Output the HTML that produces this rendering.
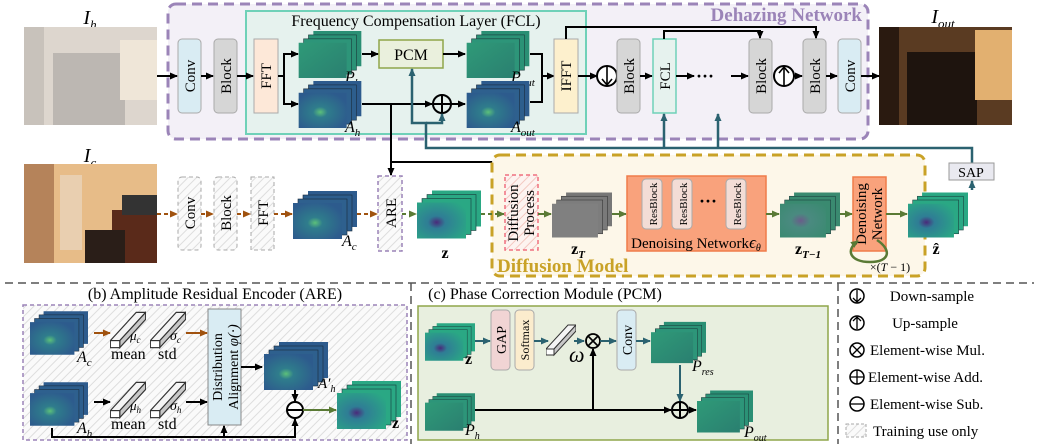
<!DOCTYPE html>
<html><head><meta charset="utf-8"><style>
html,body{margin:0;padding:0;background:#fff;width:1039px;height:444px;overflow:hidden}
svg text{font-family:"Liberation Serif",serif}
</style></head><body>
<svg width="1039" height="444" viewBox="0 0 1039 444" xmlns="http://www.w3.org/2000/svg">
<defs>
<marker id="ak" markerWidth="8" markerHeight="8" refX="7" refY="4" orient="auto" markerUnits="userSpaceOnUse"><path d="M0,0.5 L8,4 L0,7.5z" fill="#000"/></marker>
<marker id="at" markerWidth="8" markerHeight="8" refX="7" refY="4" orient="auto" markerUnits="userSpaceOnUse"><path d="M0,0.5 L8,4 L0,7.5z" fill="#2b6270"/></marker>
<marker id="ao" markerWidth="8" markerHeight="8" refX="7" refY="4" orient="auto" markerUnits="userSpaceOnUse"><path d="M0,0.5 L8,4 L0,7.5z" fill="#a0520f"/></marker>
<marker id="ag" markerWidth="8" markerHeight="8" refX="7" refY="4" orient="auto" markerUnits="userSpaceOnUse"><path d="M0,0.5 L8,4 L0,7.5z" fill="#5a7a35"/></marker>
<pattern id="hatch" width="6" height="6" patternUnits="userSpaceOnUse" patternTransform="rotate(45)"><rect width="6" height="6" fill="#fafafa"/><line x1="0" y1="0" x2="0" y2="6" stroke="#ddd" stroke-width="2"/></pattern>
<pattern id="hatchp" width="6" height="6" patternUnits="userSpaceOnUse" patternTransform="rotate(45)"><rect width="6" height="6" fill="#fdf3f0"/><line x1="0" y1="0" x2="0" y2="6" stroke="#f3c8c0" stroke-width="2"/></pattern>
<radialGradient id="gA" cx="0.45" cy="0.55" r="0.6"><stop offset="0" stop-color="#5cc07a"/><stop offset="0.25" stop-color="#2f7d8c"/><stop offset="1" stop-color="#2d5b8d"/></radialGradient>
<radialGradient id="gZ" cx="0.4" cy="0.55" r="0.7"><stop offset="0" stop-color="#4a2a7a"/><stop offset="0.25" stop-color="#2f7d95"/><stop offset="1" stop-color="#2aa884"/></radialGradient>
<linearGradient id="gP" x1="0" y1="0" x2="1" y2="1"><stop offset="0" stop-color="#2f9a78"/><stop offset="1" stop-color="#2a7f70"/></linearGradient>
<radialGradient id="gT" cx="0.45" cy="0.5" r="0.7"><stop offset="0" stop-color="#6a5d8a"/><stop offset="0.3" stop-color="#4a8a80"/><stop offset="1" stop-color="#3a8a70"/></radialGradient>
<symbol id="cA" viewBox="0 0 64 48"><rect x="15" y="0" width="49" height="36" fill="#2d5b8d"/><rect x="10" y="4" width="49" height="36" fill="#2d5e8d" stroke="#1a2a3a" stroke-width="0.6"/><rect x="5" y="8" width="49" height="36" fill="#2e608e" stroke="#1a2a3a" stroke-width="0.6"/><rect x="0" y="12" width="49" height="36" fill="url(#gA)"/></symbol>
<symbol id="cZ" viewBox="0 0 64 48"><rect x="15" y="0" width="49" height="36" fill="#2aa884"/><rect x="10" y="4" width="49" height="36" fill="#2aa884" stroke="#1a3a3a" stroke-width="0.6"/><rect x="5" y="8" width="49" height="36" fill="#2aa884" stroke="#1a3a3a" stroke-width="0.6"/><rect x="0" y="12" width="49" height="36" fill="url(#gZ)"/></symbol>
<symbol id="cP" viewBox="0 0 64 48"><rect x="15" y="0" width="49" height="36" fill="#2a8f74"/><rect x="10" y="4" width="49" height="36" fill="#2b9276" stroke="#1a3a3a" stroke-width="0.6"/><rect x="5" y="8" width="49" height="36" fill="#2d9579" stroke="#1a3a3a" stroke-width="0.6"/><rect x="0" y="12" width="49" height="36" fill="url(#gP)"/></symbol>
<symbol id="cG" viewBox="0 0 64 48"><rect x="15" y="0" width="49" height="36" fill="#777"/><rect x="10" y="4" width="49" height="36" fill="#7a7a7a" stroke="#333" stroke-width="0.6"/><rect x="5" y="8" width="49" height="36" fill="#7d7d7d" stroke="#333" stroke-width="0.6"/><rect x="0" y="12" width="49" height="36" fill="#808080"/></symbol>
<symbol id="cT" viewBox="0 0 64 48"><rect x="15" y="0" width="49" height="36" fill="#3a8a70"/><rect x="10" y="4" width="49" height="36" fill="#3a8a70" stroke="#1a3a3a" stroke-width="0.6"/><rect x="5" y="8" width="49" height="36" fill="#3a8a70" stroke="#1a3a3a" stroke-width="0.6"/><rect x="0" y="12" width="49" height="36" fill="url(#gT)"/></symbol>
<symbol id="bar" viewBox="0 0 30 34"><path d="M0,26 L22,2 L30,2 L8,26z" fill="#f4f4f4" stroke="#333" stroke-width="1"/><path d="M8,26 L30,2 L30,8 L8,32z" fill="#c8c8c8" stroke="#333" stroke-width="1"/><rect x="0" y="26" width="8" height="6" fill="#fff" stroke="#333" stroke-width="1"/></symbol>
</defs>

<rect x="168" y="4" width="700" height="135" rx="8" fill="#f3f0f7" stroke="#9b84b8" stroke-width="3" stroke-dasharray="10,6"/>
<text x="862" y="21" text-anchor="end" font-size="19" font-weight="bold" fill="#9b84b8">Dehazing Network</text>
<rect x="246" y="11" width="340" height="123" fill="#e6f2ee" stroke="#6fd1b8" stroke-width="2"/>
<text x="416" y="26" text-anchor="middle" font-size="16">Frequency Compensation Layer (FCL)</text>

<text x="90" y="24" text-anchor="middle" font-size="20" font-style="italic">I<tspan font-size="13" dy="5">h</tspan></text>
<rect x="24" y="27" width="133" height="98" fill="#ddd6ce"/>
<rect x="24" y="27" width="20" height="98" fill="#c8c2bb"/>
<rect x="53" y="53" width="72" height="72" fill="#b4afab" opacity="0.8"/>
<rect x="120" y="40" width="37" height="60" fill="#efe6d8"/>
<text x="90" y="162" text-anchor="middle" font-size="20" font-style="italic">I<tspan font-size="13" dy="5">c</tspan></text>
<rect x="24" y="164" width="133" height="99" fill="#e7bc88"/>
<rect x="24" y="164" width="30" height="99" fill="#b5835a"/>
<rect x="60" y="175" width="22" height="75" fill="#e9cfb0"/>
<rect x="112" y="210" width="45" height="53" fill="#5a2a1a"/>
<rect x="85" y="230" width="40" height="33" fill="#2a1e18"/>
<rect x="122" y="195" width="35" height="20" fill="#333"/>
<text x="943" y="23" text-anchor="middle" font-size="20" font-style="italic">I<tspan font-size="13" dy="5">out</tspan></text>
<rect x="879" y="27" width="133" height="98" fill="#5a3b22"/>
<rect x="879" y="27" width="20" height="98" fill="#2a1a10"/>
<rect x="907" y="52" width="70" height="73" fill="#1e140e"/>
<rect x="975" y="30" width="37" height="70" fill="#e2b070"/>

<rect x="178" y="39" width="23" height="74" rx="4" fill="#d9ecf3" stroke="#aaa"/>
<text transform="translate(195,76) rotate(-90)" text-anchor="middle" font-size="15">Conv</text>
<rect x="214" y="39" width="23" height="74" rx="4" fill="#d6d6d6" stroke="#aaa"/>
<text transform="translate(231,76) rotate(-90)" text-anchor="middle" font-size="15">Block</text>
<rect x="254" y="39" width="24" height="74" fill="#fde8d8" stroke="#aaa"/>
<text transform="translate(271,76) rotate(-90)" text-anchor="middle" font-size="15">FFT</text>
<line x1="157" y1="76" x2="177" y2="76" stroke="#000" stroke-width="2" marker-end="url(#ak)"/>
<line x1="201" y1="76" x2="213" y2="76" stroke="#000" stroke-width="2" marker-end="url(#ak)"/>
<line x1="237" y1="76" x2="253" y2="76" stroke="#000" stroke-width="2" marker-end="url(#ak)"/>
<path d="M278,76 H284 V54 H297 M284,76 V104 H297" fill="none" stroke="#000" stroke-width="2"/>
<line x1="290" y1="54" x2="298" y2="54" stroke="#000" stroke-width="2" marker-end="url(#ak)"/>
<line x1="290" y1="104" x2="298" y2="104" stroke="#000" stroke-width="2" marker-end="url(#ak)"/>
<use href="#cP" x="298" y="31" width="64" height="47"/>
<text x="345" y="82" font-size="16" font-style="italic">P<tspan font-size="11" dy="4">h</tspan></text>
<use href="#cA" x="298" y="81" width="64" height="47"/>
<text x="345" y="132" font-size="16" font-style="italic">A<tspan font-size="11" dy="4">h</tspan></text>
<rect x="379" y="40" width="64" height="28" fill="#eaf0dd" stroke="#8fa64a" stroke-width="1.5"/>
<text x="411" y="60" text-anchor="middle" font-size="16">PCM</text>
<line x1="362" y1="54" x2="378" y2="54" stroke="#000" stroke-width="2" marker-end="url(#ak)"/>
<line x1="443" y1="54" x2="465" y2="54" stroke="#000" stroke-width="2" marker-end="url(#ak)"/>
<line x1="362" y1="104" x2="432" y2="104" stroke="#000" stroke-width="2" marker-end="url(#ak)"/>
<circle cx="442" cy="104" r="9" fill="none" stroke="#000" stroke-width="2"/><path d="M433,104 H451 M442,95 V113" stroke="#000" stroke-width="2"/>
<line x1="451" y1="104" x2="465" y2="104" stroke="#000" stroke-width="2" marker-end="url(#ak)"/>
<use href="#cP" x="466" y="31" width="64" height="47"/>
<text x="511" y="82" font-size="16" font-style="italic">P<tspan font-size="11" dy="4">out</tspan></text>
<use href="#cA" x="466" y="81" width="64" height="47"/>
<text x="511" y="132" font-size="16" font-style="italic">A<tspan font-size="11" dy="4">out</tspan></text>
<path d="M530,54 H542 V102 H530 M542,76 H553" fill="none" stroke="#000" stroke-width="2"/>
<line x1="545" y1="76" x2="554" y2="76" stroke="#000" stroke-width="2" marker-end="url(#ak)"/>
<rect x="554" y="39" width="24" height="74" fill="#fdf0cd" stroke="#aaa"/>
<text transform="translate(571,76) rotate(-90)" text-anchor="middle" font-size="15">IFFT</text>
<line x1="578" y1="76" x2="597" y2="76" stroke="#000" stroke-width="2" marker-end="url(#ak)"/>
<circle cx="607" cy="76" r="10" fill="#fff" stroke="#000" stroke-width="2"/><path d="M607,67 V84 M602,79 L607,85 L612,79" fill="none" stroke="#000" stroke-width="1.6"/>
<rect x="617" y="39" width="23" height="74" rx="4" fill="#d6d6d6" stroke="#aaa"/>
<text transform="translate(634,76) rotate(-90)" text-anchor="middle" font-size="15">Block</text>
<line x1="640" y1="76" x2="652" y2="76" stroke="#000" stroke-width="2" marker-end="url(#ak)"/>
<rect x="653" y="39" width="23" height="74" fill="#e6f2ee" stroke="#6fd1b8" stroke-width="1.5"/>
<text transform="translate(670,76) rotate(-90)" text-anchor="middle" font-size="15">FCL</text>
<line x1="676" y1="76" x2="694" y2="76" stroke="#000" stroke-width="2" marker-end="url(#ak)"/>
<text x="705" y="82" text-anchor="middle" font-size="18" font-weight="bold">···</text>
<line x1="731" y1="76" x2="748" y2="76" stroke="#000" stroke-width="2" marker-end="url(#ak)"/>
<rect x="749" y="39" width="23" height="74" rx="4" fill="#d6d6d6" stroke="#aaa"/>
<text transform="translate(766,76) rotate(-90)" text-anchor="middle" font-size="15">Block</text>
<circle cx="784" cy="76" r="10" fill="#fff" stroke="#000" stroke-width="2"/><path d="M784,85 V68 M779,73 L784,67 L789,73" fill="none" stroke="#000" stroke-width="1.6"/>
<line x1="794" y1="76" x2="802" y2="76" stroke="#000" stroke-width="2" marker-end="url(#ak)"/>
<rect x="803" y="39" width="23" height="74" rx="4" fill="#d6d6d6" stroke="#aaa"/>
<text transform="translate(820,76) rotate(-90)" text-anchor="middle" font-size="15">Block</text>
<line x1="826" y1="76" x2="837" y2="76" stroke="#000" stroke-width="2" marker-end="url(#ak)"/>
<rect x="838" y="39" width="23" height="74" rx="4" fill="#d9ecf3" stroke="#aaa"/>
<text transform="translate(855,76) rotate(-90)" text-anchor="middle" font-size="15">Conv</text>
<line x1="861" y1="76" x2="879" y2="76" stroke="#000" stroke-width="2" marker-end="url(#ak)"/>
<path d="M566,39 V27 H816 V38" fill="none" stroke="#000" stroke-width="2" marker-end="url(#ak)"/>
<path d="M664,39 V31 H760 V38" fill="none" stroke="#000" stroke-width="2" marker-end="url(#ak)"/>

<path d="M972,163 V148 H426 V123 H412 V69" fill="none" stroke="#2b6270" stroke-width="2.5" marker-end="url(#at)"/>
<path d="M426,123 H442 V114" fill="none" stroke="#2b6270" stroke-width="2.5" marker-end="url(#at)"/>
<line x1="664" y1="148" x2="664" y2="114" stroke="#2b6270" stroke-width="2.5" marker-end="url(#at)"/>
<line x1="718" y1="148" x2="718" y2="114" stroke="#2b6270" stroke-width="2.5" marker-end="url(#at)"/>

<path d="M391,104 V162 H880 V175" fill="none" stroke="#000" stroke-width="2" marker-end="url(#ak)"/>
<line x1="697" y1="162" x2="697" y2="175" stroke="#000" stroke-width="2" marker-end="url(#ak)"/>
<line x1="391" y1="160" x2="391" y2="175" stroke="#000" stroke-width="2" marker-end="url(#ak)"/>

<rect x="178" y="177" width="23" height="73" rx="4" fill="url(#hatch)" stroke="#aaa" stroke-dasharray="4,3"/>
<text transform="translate(195,213) rotate(-90)" text-anchor="middle" font-size="15">Conv</text>
<rect x="214" y="177" width="23" height="73" rx="4" fill="url(#hatch)" stroke="#aaa" stroke-dasharray="4,3"/>
<text transform="translate(231,213) rotate(-90)" text-anchor="middle" font-size="15">Block</text>
<rect x="251" y="177" width="23" height="73" fill="url(#hatch)" stroke="#aaa" stroke-dasharray="4,3"/>
<text transform="translate(268,213) rotate(-90)" text-anchor="middle" font-size="15">FFT</text>
<g stroke="#a0520f" stroke-width="2" stroke-dasharray="4,3" fill="none">
<line x1="157" y1="214" x2="177" y2="214" marker-end="url(#ao)"/>
<line x1="201" y1="214" x2="213" y2="214" marker-end="url(#ao)"/>
<line x1="237" y1="214" x2="250" y2="214" marker-end="url(#ao)"/>
<line x1="274" y1="214" x2="292" y2="214" marker-end="url(#ao)"/>
<line x1="357" y1="214" x2="377" y2="214" marker-end="url(#ao)"/>
</g>
<use href="#cA" x="293" y="190" width="64" height="50"/>
<text x="342" y="246" font-size="16" font-style="italic">A<tspan font-size="11" dy="4">c</tspan></text>
<rect x="378" y="176" width="24" height="75" fill="url(#hatch)" stroke="#9b84b8" stroke-dasharray="4,3" stroke-width="1.5"/>
<text transform="translate(396,213) rotate(-90)" text-anchor="middle" font-size="15">ARE</text>
<line x1="402" y1="214" x2="416" y2="214" stroke="#5a7a35" stroke-width="2" stroke-dasharray="4,3" marker-end="url(#ag)"/>
<use href="#cZ" x="417" y="190" width="64" height="49"/>
<text x="445" y="258" text-anchor="middle" font-size="16" font-weight="bold">z</text>

<rect x="492" y="155" width="433" height="121" rx="8" fill="#fdf7e9" stroke="#c9a227" stroke-width="3" stroke-dasharray="10,6"/>
<text x="497" y="272" font-size="19" font-weight="bold" fill="#c9a227">Diffusion Model</text>
<line x1="481" y1="214" x2="504" y2="214" stroke="#5a7a35" stroke-width="2" stroke-dasharray="4,3" marker-end="url(#ag)"/>
<rect x="505" y="175" width="33" height="75" fill="url(#hatchp)" stroke="#f07080" stroke-dasharray="4,3" stroke-width="1.5"/>
<text transform="translate(518,213) rotate(-90)" text-anchor="middle" font-size="15">Diffusion</text>
<text transform="translate(534,213) rotate(-90)" text-anchor="middle" font-size="15">Process</text>
<line x1="538" y1="214" x2="551" y2="214" stroke="#5a7a35" stroke-width="2" marker-end="url(#ag)"/>
<use href="#cG" x="552" y="191" width="60" height="48"/>
<text x="578" y="254" text-anchor="middle" font-size="16" font-weight="bold">z<tspan font-size="11" font-style="italic" dy="4">T</tspan></text>
<line x1="612" y1="214" x2="626" y2="214" stroke="#5a7a35" stroke-width="2" marker-end="url(#ag)"/>
<rect x="627" y="176" width="139" height="75" fill="#f9a27c" stroke="#f07c4a" stroke-width="1.5"/>
<g fill="#f3ddd6" stroke="#aaa"><rect x="642" y="179" width="20" height="50" rx="4"/><rect x="672" y="179" width="20" height="50" rx="4"/><rect x="726" y="179" width="20" height="50" rx="4"/></g>
<text transform="translate(657,204) rotate(-90)" text-anchor="middle" font-size="11">ResBlock</text>
<text transform="translate(687,204) rotate(-90)" text-anchor="middle" font-size="11">ResBlock</text>
<text transform="translate(741,204) rotate(-90)" text-anchor="middle" font-size="11">ResBlock</text>
<text x="708" y="207" text-anchor="middle" font-size="18" font-weight="bold">···</text>
<text x="696" y="248" text-anchor="middle" font-size="15">Denoising Network<tspan font-style="italic" font-size="17">ϵ</tspan><tspan font-style="italic" font-size="10" dy="3">θ</tspan></text>
<line x1="766" y1="214" x2="779" y2="214" stroke="#5a7a35" stroke-width="2" marker-end="url(#ag)"/>
<use href="#cT" x="780" y="191" width="60" height="48"/>
<text x="808" y="254" text-anchor="middle" font-size="16" font-weight="bold">z<tspan font-size="11" font-style="italic" dy="4">T−1</tspan></text>
<line x1="840" y1="214" x2="852" y2="214" stroke="#5a7a35" stroke-width="2" marker-end="url(#ag)"/>
<rect x="853" y="177" width="33" height="74" fill="#f9a27c" stroke="#f07c4a" stroke-width="1.5"/>
<text transform="translate(866,214) rotate(-90)" text-anchor="middle" font-size="15">Denoising</text>
<text transform="translate(882,214) rotate(-90)" text-anchor="middle" font-size="15">Network</text>
<path d="M877,240 C892,250 890,262 870,262 C850,262 845,250 858,241" fill="none" stroke="#5a7a35" stroke-width="2.5" marker-end="url(#ag)"/>
<text x="890" y="271" text-anchor="middle" font-size="12">×(<tspan font-style="italic">T</tspan> − 1)</text>
<line x1="886" y1="214" x2="907" y2="214" stroke="#5a7a35" stroke-width="2" marker-end="url(#ag)"/>
<use href="#cZ" x="908" y="190" width="60" height="50"/>
<text x="936" y="254" text-anchor="middle" font-size="16" font-weight="bold">ẑ</text>
<line x1="972" y1="190" x2="972" y2="181" stroke="#2b6270" stroke-width="2.5" marker-end="url(#at)"/>
<rect x="949" y="163" width="45" height="17" fill="#e9e9f0" stroke="#999"/>
<text x="971" y="177" text-anchor="middle" font-size="14">SAP</text>

<path d="M5,283 H1034" stroke="#555" stroke-width="1.5" stroke-dasharray="8,5"/>
<path d="M411,283 V444" stroke="#555" stroke-width="1.5" stroke-dasharray="8,5"/>
<path d="M838,283 V444" stroke="#555" stroke-width="1.5" stroke-dasharray="8,5"/>

<text x="215" y="299" text-anchor="middle" font-size="16">(b) Amplitude Residual Encoder (ARE)</text>
<rect x="23" y="305" width="384" height="135" fill="url(#hatch)" stroke="#9b84b8" stroke-dasharray="4,3" stroke-width="1.5"/>
<use href="#cA" x="30" y="309" width="58" height="48"/>
<text x="77" y="362" font-size="16" font-style="italic">A<tspan font-size="11" dy="4">c</tspan></text>
<use href="#cA" x="30" y="379" width="58" height="50"/>
<text x="77" y="433" font-size="16" font-style="italic">A<tspan font-size="11" dy="4">h</tspan></text>
<use href="#bar" x="110" y="310" width="36" height="40"/>
<use href="#bar" x="150" y="310" width="36" height="40"/>
<use href="#bar" x="110" y="380" width="36" height="40"/>
<use href="#bar" x="150" y="380" width="36" height="40"/>
<text x="130" y="340" font-size="13" font-style="italic">μ<tspan font-size="9" dy="3">c</tspan></text>
<text x="170" y="340" font-size="14" font-style="italic">σ<tspan font-size="9" dy="3">c</tspan></text>
<text x="130" y="410" font-size="13" font-style="italic">μ<tspan font-size="9" dy="3">h</tspan></text>
<text x="170" y="410" font-size="14" font-style="italic">σ<tspan font-size="9" dy="3">h</tspan></text>
<text x="111" y="359" font-size="16">mean</text><text x="158" y="359" font-size="16">std</text>
<text x="111" y="429" font-size="16">mean</text><text x="158" y="429" font-size="16">std</text>
<line x1="94" y1="333" x2="110" y2="333" stroke="#a0520f" stroke-width="2" marker-end="url(#ao)"/>
<line x1="186" y1="333" x2="207" y2="333" stroke="#a0520f" stroke-width="2" marker-end="url(#ao)"/>
<line x1="94" y1="402" x2="110" y2="402" stroke="#000" stroke-width="2" marker-end="url(#ak)"/>
<line x1="186" y1="402" x2="207" y2="402" stroke="#000" stroke-width="2" marker-end="url(#ak)"/>
<rect x="208" y="309" width="33" height="116" fill="#d9ecf3" stroke="#888"/>
<text transform="translate(222,367) rotate(-90)" text-anchor="middle" font-size="14">Distribution</text>
<text transform="translate(238,367) rotate(-90)" text-anchor="middle" font-size="14">Alignment <tspan font-style="italic" font-size="15">φ(·)</tspan></text>
<line x1="241" y1="367" x2="262" y2="367" stroke="#000" stroke-width="2" marker-end="url(#ak)"/>
<use href="#cA" x="263" y="342" width="66" height="48"/>
<text x="318" y="388" font-size="15" font-style="italic">A′<tspan font-size="10" dy="4">h</tspan></text>
<line x1="295" y1="390" x2="295" y2="401" stroke="#000" stroke-width="2" marker-end="url(#ak)"/>
<circle cx="295" cy="410" r="8" fill="#fff" stroke="#000" stroke-width="2"/><path d="M287,410 H303" stroke="#000" stroke-width="2"/>
<path d="M52,428 V437 H295 V419" fill="none" stroke="#000" stroke-width="2" marker-end="url(#ak)"/>
<line x1="224" y1="437" x2="224" y2="426" stroke="#000" stroke-width="2" marker-end="url(#ak)"/>
<line x1="303" y1="410" x2="336" y2="410" stroke="#5a7a35" stroke-width="2" marker-end="url(#ag)"/>
<use href="#cZ" x="337" y="380" width="64" height="50"/>
<text x="392" y="428" font-size="16" font-weight="bold">z</text>

<text x="545" y="299" text-anchor="middle" font-size="16">(c) Phase Correction Module (PCM)</text>
<rect x="418" y="306" width="410" height="134" fill="#e8efdf" stroke="#8fa64a" stroke-width="1.5"/>
<use href="#cZ" x="425" y="318" width="50" height="48"/>
<text x="465" y="364" font-size="16" font-weight="bold">z</text>
<line x1="475" y1="341" x2="490" y2="341" stroke="#2b6270" stroke-width="2" marker-end="url(#at)"/>
<rect x="491" y="310" width="19" height="60" rx="4" fill="#f1d4d4" stroke="#aaa"/>
<text transform="translate(506,340) rotate(-90)" text-anchor="middle" font-size="14">GAP</text>
<rect x="515" y="310" width="19" height="60" rx="4" fill="#fbeccd" stroke="#aaa"/>
<text transform="translate(529,340) rotate(-90)" text-anchor="middle" font-size="12">Softmax</text>
<line x1="534" y1="341" x2="548" y2="341" stroke="#2b6270" stroke-width="2" marker-end="url(#at)"/>
<use href="#bar" x="546" y="320" width="30" height="40"/>
<text x="569" y="362" font-size="22" font-style="italic">ω</text>
<line x1="574" y1="341" x2="584" y2="341" stroke="#2b6270" stroke-width="2" marker-end="url(#at)"/>
<circle cx="593" cy="341" r="7" fill="none" stroke="#000" stroke-width="1.8"/><path d="M588,336 L598,346 M598,336 L588,346" stroke="#000" stroke-width="1.6"/>
<line x1="600" y1="341" x2="616" y2="341" stroke="#2b6270" stroke-width="2" marker-end="url(#at)"/>
<rect x="617" y="310" width="19" height="60" rx="4" fill="#d9ecf3" stroke="#aaa"/>
<text transform="translate(632,340) rotate(-90)" text-anchor="middle" font-size="14">Conv</text>
<line x1="636" y1="341" x2="650" y2="341" stroke="#2b6270" stroke-width="2" marker-end="url(#at)"/>
<use href="#cP" x="651" y="320" width="55" height="45"/>
<text x="692" y="371" font-size="16" font-style="italic">P<tspan font-size="10" dy="4">res</tspan></text>
<line x1="680" y1="365" x2="680" y2="401" stroke="#2b6270" stroke-width="2" marker-end="url(#at)"/>
<use href="#cP" x="425" y="388" width="50" height="48"/>
<text x="465" y="435" font-size="16" font-style="italic">P<tspan font-size="10" dy="4">h</tspan></text>
<line x1="475" y1="410" x2="671" y2="410" stroke="#000" stroke-width="2" marker-end="url(#ak)"/>
<line x1="593" y1="410" x2="593" y2="349" stroke="#000" stroke-width="2" marker-end="url(#ak)"/>
<circle cx="680" cy="410" r="8" fill="none" stroke="#000" stroke-width="2"/><path d="M672,410 H688 M680,402 V418" stroke="#000" stroke-width="2"/>
<line x1="688" y1="410" x2="696" y2="410" stroke="#000" stroke-width="2" marker-end="url(#ak)"/>
<use href="#cP" x="697" y="388" width="56" height="47"/>
<text x="744" y="437" font-size="16" font-style="italic">P<tspan font-size="10" dy="4">out</tspan></text>

<g font-size="15">
<circle cx="857" cy="296" r="7" fill="none" stroke="#000" stroke-width="1.5"/><path d="M857,290 V302 M853,298 L857,302 L861,298" fill="none" stroke="#000" stroke-width="1.3"/>
<text x="932" y="301" text-anchor="middle">Down-sample</text>
<circle cx="857" cy="323" r="7" fill="none" stroke="#000" stroke-width="1.5"/><path d="M857,329 V317 M853,321 L857,317 L861,321" fill="none" stroke="#000" stroke-width="1.3"/>
<text x="925" y="328" text-anchor="middle">Up-sample</text>
<circle cx="857" cy="350" r="7" fill="none" stroke="#000" stroke-width="1.5"/><path d="M852,345 L862,355 M862,345 L852,355" stroke="#000" stroke-width="1.3"/>
<text x="870" y="355">Element-wise Mul.</text>
<circle cx="857" cy="377" r="7" fill="none" stroke="#000" stroke-width="1.5"/><path d="M850,377 H864 M857,370 V384" stroke="#000" stroke-width="1.3"/>
<text x="868" y="382">Element-wise Add.</text>
<circle cx="857" cy="404" r="7" fill="none" stroke="#000" stroke-width="1.5"/><path d="M850,404 H864" stroke="#000" stroke-width="1.3"/>
<text x="870" y="409">Element-wise Sub.</text>
<rect x="846" y="424" width="20" height="13" fill="url(#hatch)" stroke="#aaa" stroke-dasharray="3,2"/>
<text x="873" y="436">Training use only</text>
</g>
</svg>
</body></html>
